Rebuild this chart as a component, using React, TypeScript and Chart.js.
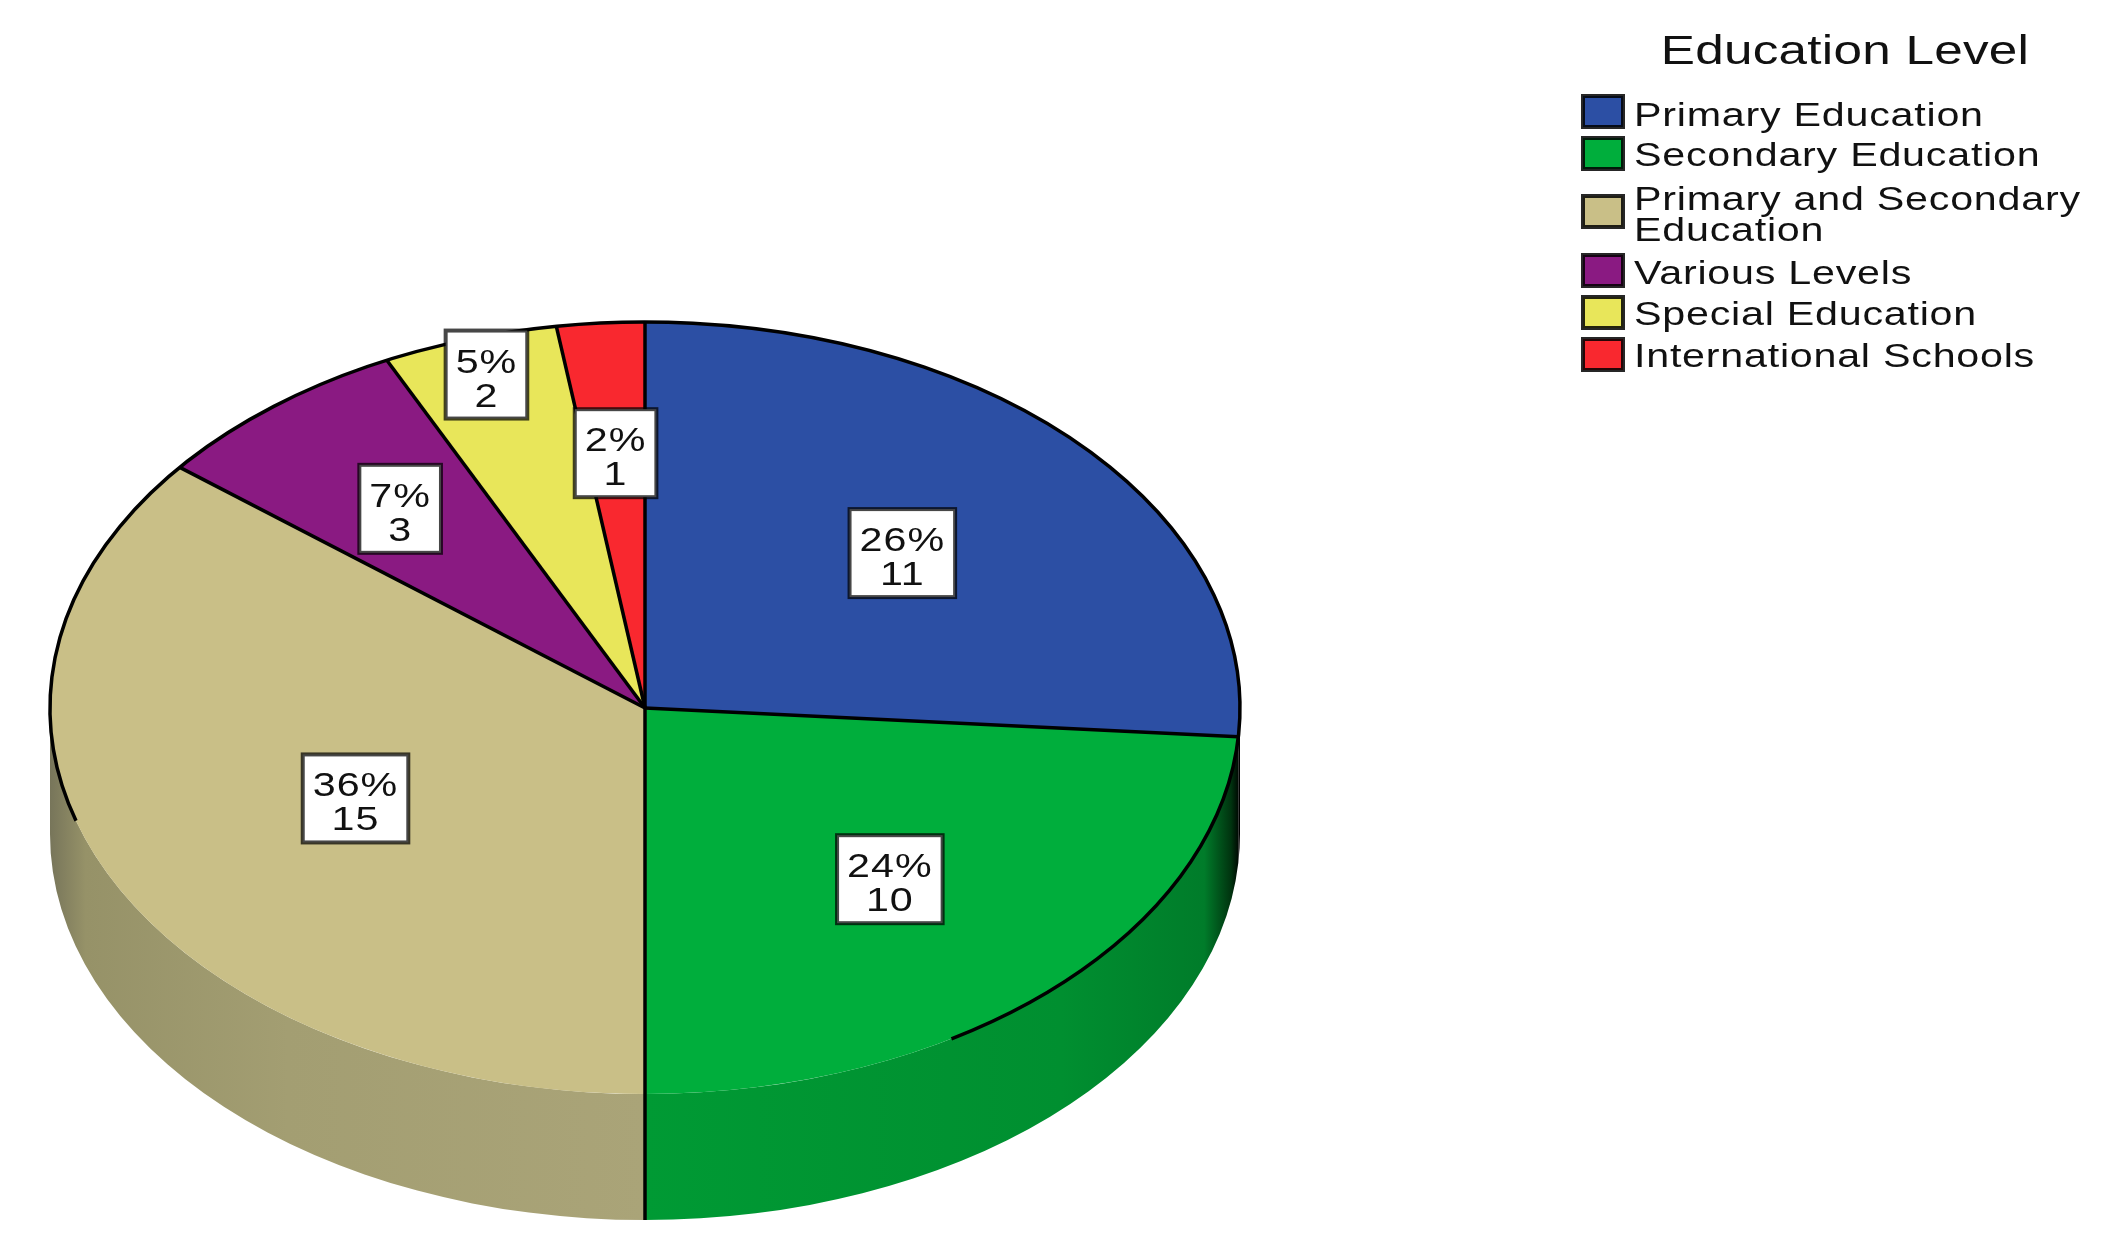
import React, { useEffect, useRef } from "react";
import { Chart, registerables } from "chart.js";

Chart.register(...registerables);

const legendTitle = "Education Level";
const categories = [
  "Primary Education",
  "Secondary Education",
  "Primary and Secondary Education",
  "Various Levels",
  "Special Education",
  "International Schools",
];
const legendLines = [
  ["Primary Education"],
  ["Secondary Education"],
  ["Primary and Secondary", "Education"],
  ["Various Levels"],
  ["Special Education"],
  ["International Schools"],
];
const counts = [11, 10, 15, 3, 2, 1];
const percentLabels = ["26%", "24%", "36%", "7%", "5%", "2%"];
const colors = ["#2c4fa4", "#00ae3c", "#c9bf87", "#8a1a82", "#e8e65a", "#f9282f"];
const labelRadius = [0.59, 0.605, 0.54, 0.66, 0.904, 0.662];

const geom = { cx: 645, cy: 708, yScale: 386 / 595, depth: 126 };
const outline = { fromDeg: 163, toDeg: 419, width: 3.5 };
const legendSwatchTop = [95, 137, 195, 254, 296, 338];
const legendFirstBaseline = [126, 166, 210, 284, 325, 367];
const FONT = '"Liberation Sans", Arial, sans-serif';
const STRETCH = 1.25;

function stretchedText(ctx: CanvasRenderingContext2D, text: string, x: number, y: number, size: number, spacing: number, align: "left" | "center") {
  ctx.save();
  ctx.font = `${size}px ${FONT}`;
  (ctx as any).letterSpacing = `${spacing}px`;
  ctx.textAlign = "left";
  ctx.textBaseline = "alphabetic";
  const w = ctx.measureText(text).width;
  const left = align === "center" ? x - (w * STRETCH) / 2 : x;
  ctx.translate(left, y);
  ctx.scale(STRETCH, 1);
  ctx.fillText(text, 0, 0);
  ctx.restore();
}

function arcsOf(chart: any) {
  return chart.getDatasetMeta(0).data.map((el: any) =>
    el.getProps(["x", "y", "startAngle", "endAngle", "outerRadius"], true)
  );
}

function applyFlatten(ctx: CanvasRenderingContext2D, x: number, y: number, dy = 0) {
  ctx.translate(geom.cx, geom.cy + dy);
  ctx.scale(1, geom.yScale);
  ctx.translate(-x, -y);
}

const flattenedPie = {
  id: "flattenedPie",
  beforeDatasetsDraw(chart: any) {
    const ctx: CanvasRenderingContext2D = chart.ctx;
    const arcs = arcsOf(chart);
    const r = arcs[0].outerRadius;
    const wallFill: Record<number, CanvasGradient> = {};
    const right = ctx.createLinearGradient(geom.cx, 0, geom.cx + r, 0);
    right.addColorStop(0, "#009a34");
    right.addColorStop(0.7, "#008f30");
    right.addColorStop(0.94, "#007c2a");
    right.addColorStop(0.985, "#00330f");
    right.addColorStop(1, "#000000");
    wallFill[1] = right;
    const left = ctx.createLinearGradient(geom.cx - r, 0, geom.cx, 0);
    left.addColorStop(0, "#77755a");
    left.addColorStop(0.06, "#969268");
    left.addColorStop(0.4, "#a39e72");
    left.addColorStop(1, "#aaa478");
    wallFill[2] = left;

    arcs.forEach((a: any, i: number) => {
      const s = Math.max(a.startAngle, 0);
      const e = Math.min(a.endAngle, Math.PI);
      if (e <= s) return;
      ctx.save();
      ctx.beginPath();
      ctx.save();
      applyFlatten(ctx, a.x, a.y);
      ctx.arc(a.x, a.y, r, s, e);
      ctx.restore();
      ctx.save();
      applyFlatten(ctx, a.x, a.y, geom.depth);
      ctx.arc(a.x, a.y, r, e, s, true);
      ctx.restore();
      ctx.closePath();
      ctx.fillStyle = wallFill[i] ?? "#000000";
      ctx.fill();
      ctx.restore();
    });

    ctx.save();
    applyFlatten(ctx, arcs[0].x, arcs[0].y);
  },
  afterDatasetsDraw(chart: any) {
    const ctx: CanvasRenderingContext2D = chart.ctx;
    ctx.restore();
    const arcs = arcsOf(chart);
    const r = arcs[0].outerRadius;
    const x0 = arcs[0].x;
    const y0 = arcs[0].y;

    // outer rim and slice edges
    ctx.save();
    ctx.strokeStyle = "#000000";
    ctx.lineWidth = outline.width;
    ctx.beginPath();
    ctx.save();
    applyFlatten(ctx, x0, y0);
    ctx.arc(x0, y0, r, (outline.fromDeg * Math.PI) / 180, (outline.toDeg * Math.PI) / 180);
    ctx.restore();
    ctx.stroke();
    arcs.forEach((a: any) => {
      ctx.beginPath();
      ctx.moveTo(geom.cx, geom.cy);
      ctx.lineTo(geom.cx + r * Math.cos(a.startAngle), geom.cy + r * geom.yScale * Math.sin(a.startAngle));
      ctx.stroke();
    });
    // the edge between the two walls
    ctx.beginPath();
    ctx.moveTo(geom.cx, geom.cy + r * geom.yScale);
    ctx.lineTo(geom.cx, geom.cy + r * geom.yScale + geom.depth);
    ctx.stroke();
    ctx.restore();

    // value boxes
    const size = 33;
    arcs.forEach((a: any, i: number) => {
      const mid = (a.startAngle + a.endAngle) / 2;
      const bx = geom.cx + labelRadius[i] * r * Math.cos(mid);
      const by = geom.cy + labelRadius[i] * r * geom.yScale * Math.sin(mid);
      const l1 = percentLabels[i];
      const l2 = String(counts[i]);
      ctx.save();
      ctx.font = `${size}px ${FONT}`;
      (ctx as any).letterSpacing = "0.8px";
      const tw = ctx.measureText(l1).width * STRETCH;
      ctx.restore();
      const w = tw + 20;
      const h = 88;
      ctx.save();
      ctx.fillStyle = "#ffffff";
      ctx.fillRect(bx - w / 2, by - h / 2, w, h);
      ctx.strokeStyle = "rgba(0,0,0,0.72)";
      ctx.lineWidth = 4;
      ctx.strokeRect(bx - w / 2, by - h / 2, w, h);
      ctx.fillStyle = "#111111";
      stretchedText(ctx, l1, bx, by - 2, size, 0.8, "center");
      stretchedText(ctx, l2, bx, by + 32, size, 0.8, "center");
      ctx.restore();
    });

    // legend
    ctx.save();
    ctx.fillStyle = "#111111";
    stretchedText(ctx, legendTitle, 1845, 64, 41, 0.2, "center");
    legendLines.forEach((lines, i) => {
      const top = legendSwatchTop[i];
      ctx.fillStyle = colors[i];
      ctx.fillRect(1583, top + 1, 40, 31);
      ctx.strokeStyle = "rgba(0,0,0,0.85)";
      ctx.lineWidth = 4;
      ctx.strokeRect(1583, top + 1, 40, 31);
      ctx.fillStyle = "#111111";
      lines.forEach((line, j) => {
        stretchedText(ctx, line, 1634, legendFirstBaseline[i] + j * 31, 33, 0.6, "left");
      });
    });
    ctx.restore();
  },
};

export default function App() {
  const ref = useRef<HTMLCanvasElement>(null);
  useEffect(() => {
    if (!ref.current) return;
    const chart = new Chart(ref.current, {
      type: "pie",
      data: {
        labels: categories,
        datasets: [{ data: counts, backgroundColor: colors, borderWidth: 0, clip: false } as any],
      },
      options: {
        responsive: false,
        animation: false,
        layout: { padding: { left: 50, right: 863, top: 31, bottom: 32 } },
        plugins: { legend: { display: false }, tooltip: { enabled: false } },
      },
      plugins: [flattenedPie],
    } as any);
    return () => chart.destroy();
  }, []);
  return (
    <div style={{ position: "fixed", left: 0, top: 0, width: 2103, height: 1253, background: "#ffffff", overflow: "hidden" }}>
      <canvas ref={ref} width={2103} height={1253} style={{ display: "block", width: 2103, height: 1253, filter: "blur(0.6px)" }} />
    </div>
  );
}
